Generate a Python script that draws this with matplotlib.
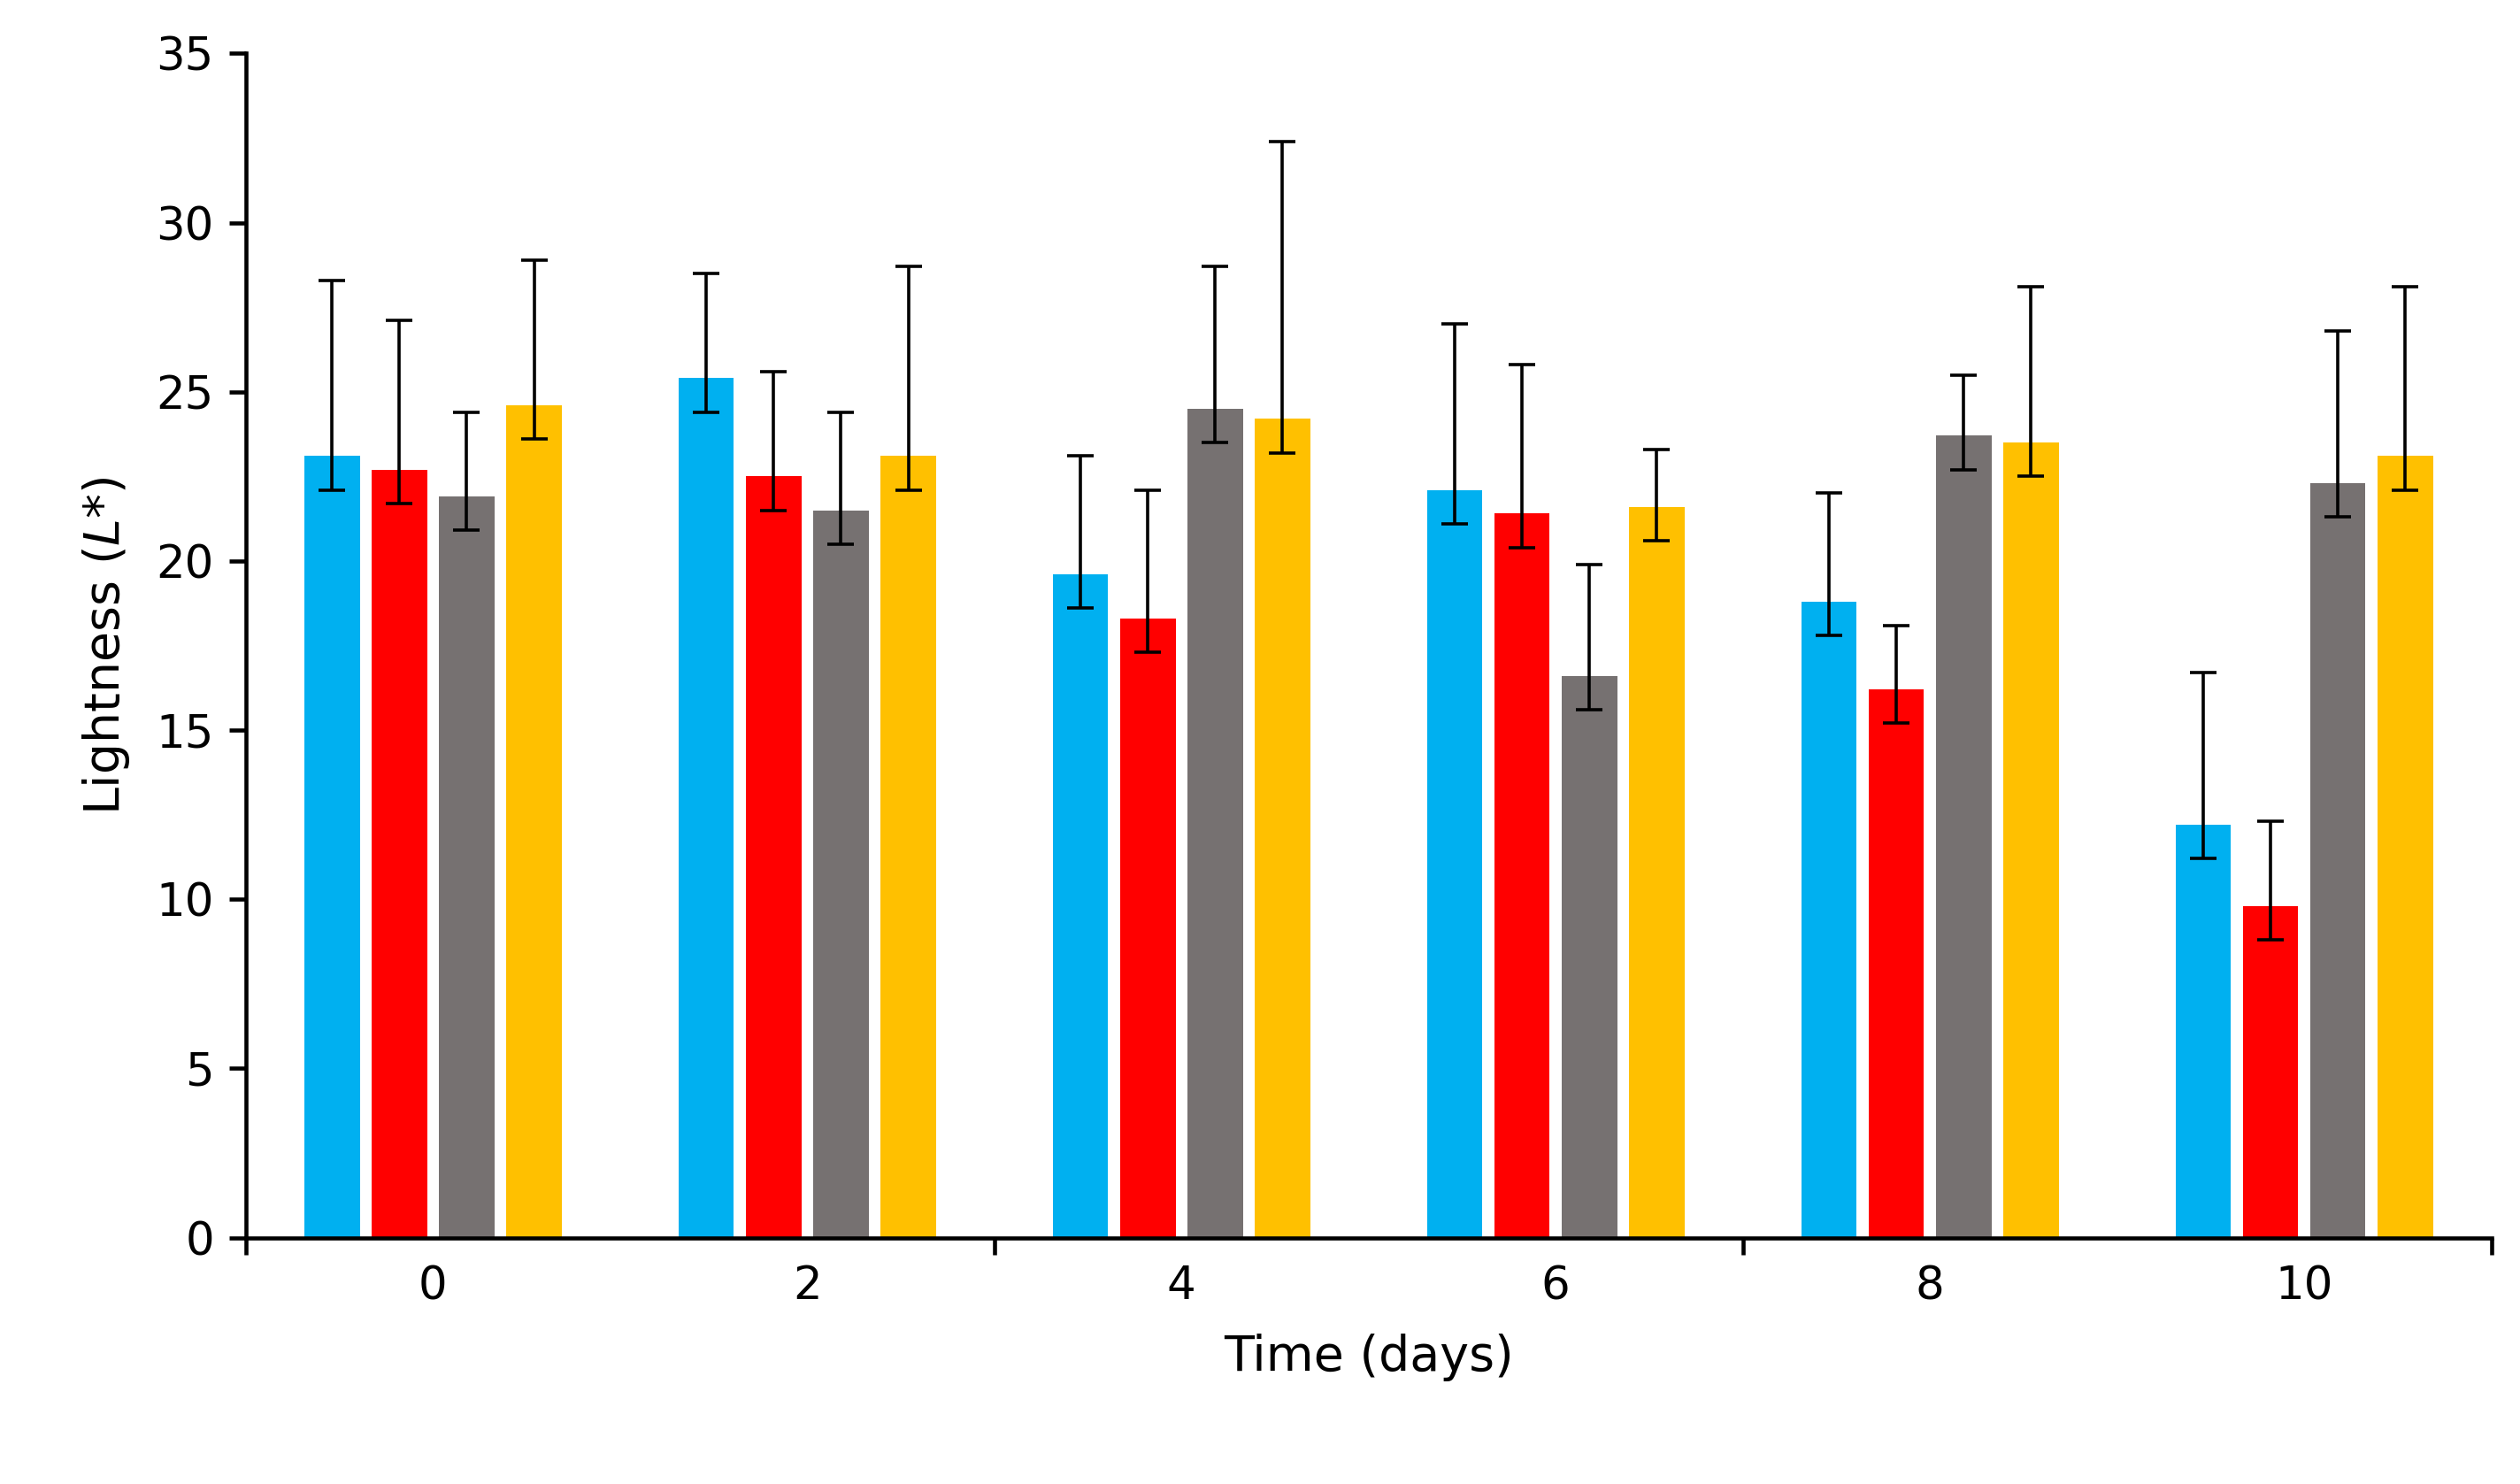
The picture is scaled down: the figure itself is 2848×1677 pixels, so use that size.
import numpy as np
import matplotlib.pyplot as plt

days = ['0', '2', '4', '6', '8', '10']
colors = ['#00B0F0', '#FF0000', '#767171', '#FFC000']

# bar heights per series (blue, red, grey, yellow)
blue = [23.1, 25.4, 19.6, 22.1, 18.8, 12.2]
red = [22.7, 22.5, 18.3, 21.4, 16.2, 9.8]
grey = [21.9, 21.5, 24.5, 16.6, 23.7, 22.3]
yellow = [24.6, 23.1, 24.2, 21.6, 23.5, 23.1]

# error bar tops / bottoms
blue_hi = [28.3, 28.5, 23.1, 27.0, 22.0, 16.7]
red_hi = [27.1, 25.6, 22.1, 25.8, 18.1, 12.3]
grey_hi = [24.4, 24.4, 28.7, 19.9, 25.5, 26.8]
yellow_hi = [28.9, 28.7, 32.4, 23.3, 28.1, 28.1]
lower_err = 1.0

series = [blue, red, grey, yellow]
highs = [blue_hi, red_hi, grey_hi, yellow_hi]

fig = plt.figure(figsize=(28.48, 16.77), dpi=100)
ax = fig.add_axes([0.0976, 0.166, 0.891, 0.798])

x = np.arange(len(days))
offsets = [-0.27, -0.09, 0.09, 0.27]
for vals, hi, c, off in zip(series, highs, colors, offsets):
    vals = np.array(vals)
    up = np.array(hi) - vals
    lo = np.full(len(vals), lower_err)
    ax.bar(x + off, vals, width=0.148, color=c, zorder=2)
    ax.errorbar(x + off, vals, yerr=[lo, up], fmt='none', ecolor='black',
                elinewidth=2.6, capsize=11, capthick=2.6, zorder=3)

ax.set_xlim(-0.5, 5.5)
ax.set_ylim(0, 35)
ax.set_yticks(range(0, 36, 5))
ax.set_xticks([-0.5, 1.5, 3.5, 5.5])
ax.set_xticklabels([])
ax.set_xticks(x, minor=True)
ax.set_xticklabels(days, minor=True)
ax.tick_params(axis='x', which='minor', length=0, labelsize=37, pad=22)
ax.tick_params(axis='x', which='major', length=14, width=3.3, direction='out')
ax.tick_params(axis='y', length=14, width=3.3, labelsize=37, pad=12)

for s in ['top', 'right']:
    ax.spines[s].set_visible(False)
for s in ['left', 'bottom']:
    ax.spines[s].set_linewidth(3.3)

ax.set_xlabel('Time (days)', fontsize=40, labelpad=20)
ax.set_ylabel('Lightness ($\\it{L}$*)', fontsize=40, labelpad=20)

fig.savefig('out.png', dpi=100)
